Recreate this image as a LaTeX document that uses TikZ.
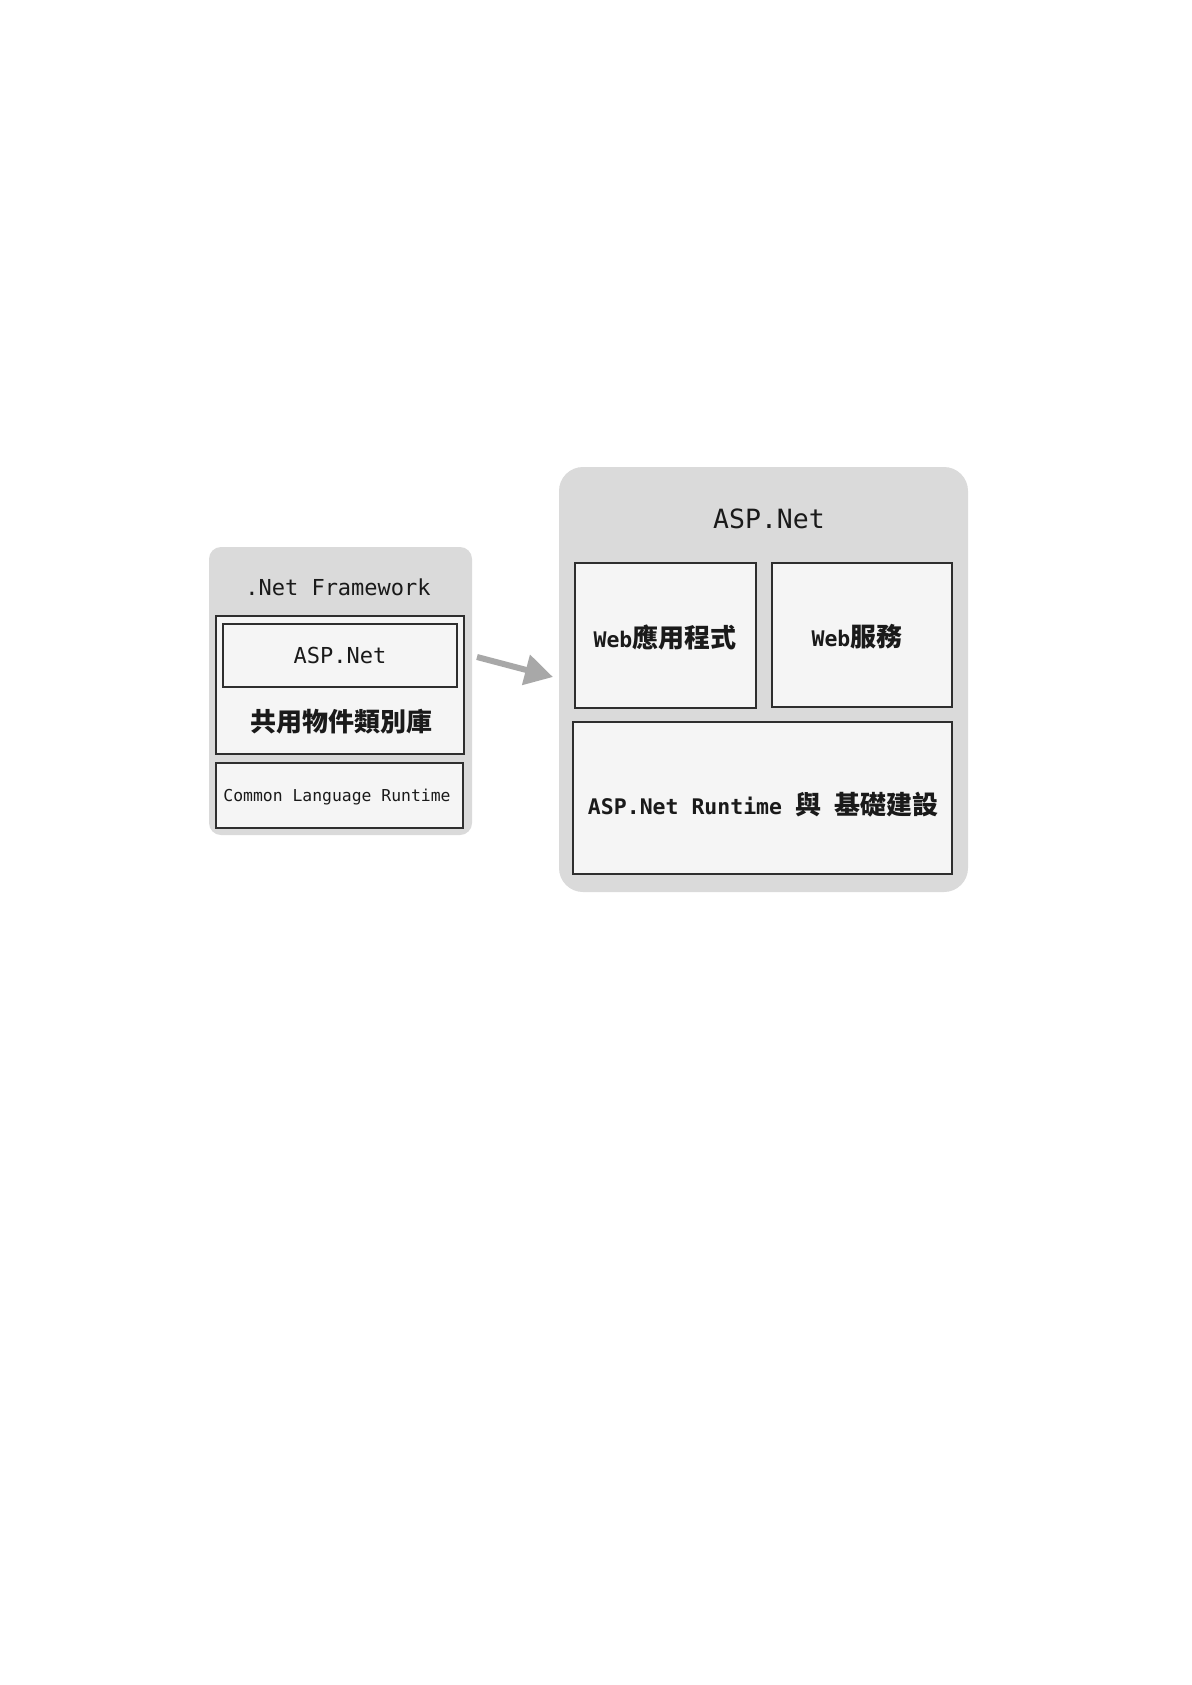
\documentclass[tikz,border=0pt]{standalone}
\usepackage{fontspec}
\setmonofont{DejaVu Sans Mono}
\newfontfamily\cjk{Noto Sans CJK TC}
\usetikzlibrary{arrows.meta}
\definecolor{panelgray}{HTML}{DADADA}
\definecolor{boxfill}{HTML}{F5F5F5}
\definecolor{boxline}{HTML}{2E2E2E}
\definecolor{arrowgray}{HTML}{A8A8A8}
\definecolor{txt}{HTML}{1A1A1A}
\begin{document}
\begin{tikzpicture}[x=1pt,y=-1pt,
  panel/.style={draw=none, fill=panelgray, inner sep=0pt, outer sep=0pt},
  box/.style={draw=boxline, line width=1.6pt, fill=boxfill, inner sep=0pt, outer sep=0pt},
  lbl/.style={text=txt, inner sep=0pt, font=\ttfamily\fontsize{22}{26}\selectfont},
  cjklbl/.style={text=txt, inner sep=0pt, font=\ttfamily\bfseries\fontsize{21.5}{26}\selectfont},
]
\newcommand{\cjkb}[1]{{\cjk\bfseries\fontsize{26}{30}\selectfont #1}}
\useasboundingbox (0,0) rectangle (1191,1685);
\fill[white] (0,0) rectangle (1191,1685);

% left panel
\node[panel, rounded corners=12pt, minimum width=263pt, minimum height=288pt] (netfw) at (340.5,691) {};
\node[lbl] (netfwlbl) at (338,587) {.Net Framework};
\node[box, minimum width=248pt, minimum height=138pt] (lib) at (340,685) {};
\node[box, line width=1.3pt, minimum width=234pt, minimum height=63pt] (aspin) at (340,655.5) {};
\node[lbl] (aspinlbl) at (aspin.center) {ASP.Net};
\node[cjklbl] (liblbl) at (341,722) {\cjkb{共用物件類別庫}};
\node[box, minimum width=247pt, minimum height=65pt] (clr) at (339.5,795.5) {};
\node[lbl, font=\ttfamily\fontsize{16.4}{20}\selectfont] (clrlbl) at (337,797) {Common Language Runtime};

% right panel
\node[panel, rounded corners=24pt, minimum width=409pt, minimum height=425pt] (asp) at (763.5,679.5) {};
\node[lbl, font=\ttfamily\fontsize{26.5}{30}\selectfont] (asplbl) at (769,519) {ASP.Net};
\node[box, minimum width=181pt, minimum height=145pt] (webapp) at (665.5,635.5) {};
\node[cjklbl] (webapplbl) at (665,637) {Web\cjkb{應用程式}};
\node[box, minimum width=180pt, minimum height=144pt] (websvc) at (862,635) {};
\node[cjklbl] (websvclbl) at (857,637) {Web\cjkb{服務}};
\node[box, minimum width=379pt, minimum height=152pt] (runtime) at (762.5,798) {};
\node[cjklbl] (runtimelbl) at (763,805) {ASP.Net Runtime \cjkb{與}\ \cjkb{基礎建設}};

% arrow
\coordinate (arrS) at (477,657);
\coordinate (arrE) at (553,677);
\draw[arrowgray, line width=6pt, -{Triangle[length=28pt,width=30pt]}] (arrS) -- (arrE);
\end{tikzpicture}
\end{document}
